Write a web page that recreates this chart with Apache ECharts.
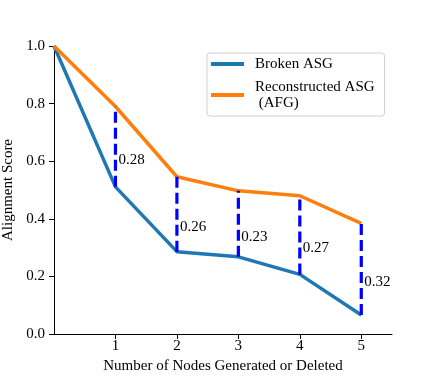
<!DOCTYPE html>
<html><head><meta charset="utf-8">
<script src="https://cdn.jsdelivr.net/npm/echarts@6/dist/echarts.min.js"></script>
<style>html,body{margin:0;padding:0;background:#fff}#c{width:436px;height:382px}</style>
</head><body><div id="c"></div>
<script>
const xValues = [0, 1, 2, 3, 4, 5];
const brokenASG = [1.0, 0.511, 0.286, 0.268, 0.207, 0.066];
const reconstructedASG = [1.0, 0.79, 0.546, 0.497, 0.48, 0.384];
const gapX = [1, 2, 3, 4, 5];
const gapLabels = ['0.28', '0.26', '0.23', '0.27', '0.32'];
const yTicks = [0, 0.2, 0.4, 0.6, 0.8, 1.0];
const xTicks = [1, 2, 3, 4, 5];

const FONT = 'Liberation Serif';
const chart = echarts.init(document.getElementById('c'), null, {renderer: 'canvas'});

const gapData = gapX.map((x, i) => {
  const idx = xValues.indexOf(x);
  return [x, brokenASG[idx], reconstructedASG[idx], gapLabels[i]];
});

chart.setOption({
  animation: false,
  grid: {left: 54, right: 44, top: 46, bottom: 48, containLabel: false, outerBoundsMode: 'none'},
  legend: {
    orient: 'vertical', left: 207, top: 53,
    padding: [3, 10, 5, 4], itemGap: 7,
    itemWidth: 33, itemHeight: 4, icon: 'rect',
    borderColor: '#d0d0d0', borderWidth: 1, borderRadius: 3,
    textStyle: {fontFamily: FONT, fontSize: 15, color: '#000', lineHeight: 16, padding: [0, 0, 0, 6]},
    data: ['Broken ASG', 'Reconstructed ASG\n (AFG)']
  },
  xAxis: {
    type: 'value', min: 0, max: 5.5, interval: 1,
    name: 'Number of Nodes Generated or Deleted', nameLocation: 'middle', nameGap: 24,
    nameTextStyle: {fontFamily: FONT, fontSize: 15, color: '#000'},
    axisLine: {lineStyle: {color: '#000', width: 1}},
    axisTick: {length: 5, lineStyle: {color: '#000'}, customValues: xTicks},
    axisLabel: {fontFamily: FONT, fontSize: 15, color: '#000', margin: 5, customValues: xTicks},
    splitLine: {show: false}
  },
  yAxis: {
    type: 'value', min: 0, max: 1, interval: 0.2,
    name: 'Alignment Score', nameLocation: 'middle', nameGap: 34,
    nameTextStyle: {fontFamily: FONT, fontSize: 15, color: '#000'},
    axisLine: {show: true, lineStyle: {color: '#000', width: 1}},
    axisTick: {show: true, length: 5, lineStyle: {color: '#000'}},
    axisLabel: {fontFamily: FONT, fontSize: 15, color: '#000', margin: 9,
      formatter: v => v.toFixed(1)},
    splitLine: {show: false}
  },
  series: [
    {
      name: 'Broken ASG', type: 'line', symbol: 'none',
      data: xValues.map((x, i) => [x, brokenASG[i]]),
      lineStyle: {color: '#1f77b4', width: 3.5}, itemStyle: {color: '#1f77b4'}, z: 3
    },
    {
      name: 'Reconstructed ASG\n (AFG)', type: 'line', symbol: 'none',
      data: xValues.map((x, i) => [x, reconstructedASG[i]]),
      lineStyle: {color: '#ff7f0e', width: 3.5}, itemStyle: {color: '#ff7f0e'}, z: 3
    },
    {
      name: 'gap', type: 'custom', z: 4,
      data: gapData,
      renderItem: function (params, api) {
        const x = api.value(0);
        const p1 = api.coord([x, api.value(1)]);
        const p2 = api.coord([x, api.value(2)]);
        const mid = (p1[1] + p2[1]) / 2;
        return {
          type: 'group',
          children: [
            {type: 'line', shape: {x1: p1[0], y1: p1[1], x2: p2[0], y2: p2[1]},
              style: {stroke: '#0000ff', lineWidth: 3.2, lineDash: [11, 5]}},
            {type: 'text', style: {text: gapLabels[params.dataIndex], x: p1[0] + 3, y: mid + 13,
              fontFamily: FONT, fontSize: 15, fill: '#000', verticalAlign: 'middle', align: 'left'}}
          ]
        };
      }
    }
  ]
});
</script></body></html>
